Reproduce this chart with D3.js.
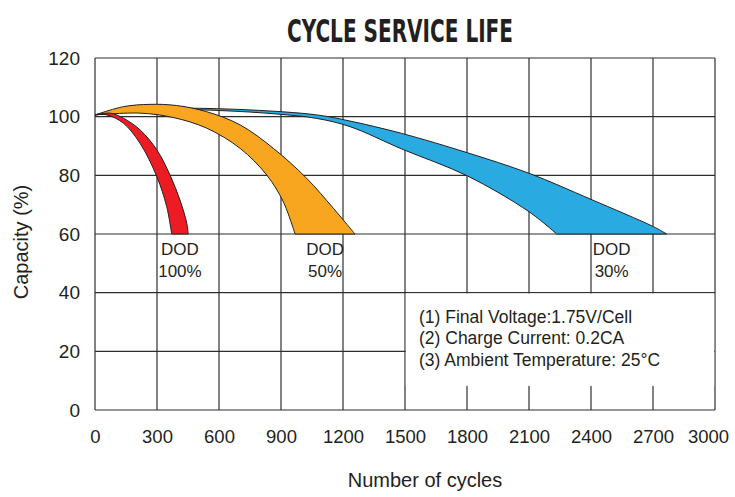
<!DOCTYPE html>
<html>
<head>
<meta charset="utf-8">
<script src="https://cdn.jsdelivr.net/npm/d3@7"></script>
<style>
  body { margin: 0; background: #fff; }
  svg { display: block; }
</style>
</head>
<body>
<div id="chart"></div>
<script>
// axes: number of cycles vs remaining capacity (%)
const xTicks = [0, 300, 600, 900, 1200, 1500, 1800, 2100, 2400, 2700, 3000];
const yTicks = [0, 20, 40, 60, 80, 100, 120];

// each band is an upper and a lower edge, [cycles, capacity %]
const dod100Upper = [[0, 100.6], [73, 101.2], [137, 99.5], [218, 95.5], [299, 88.7], [363, 80.1], [411, 71.6], [444, 63.7], [451, 60]];
const dod100Lower = [[0, 100.6], [57, 100.6], [137, 97.8], [218, 90.9], [299, 79.6], [347, 69.3], [371, 60]];

const dod50Upper = [[0, 100.6], [137, 103.4], [266, 104.2], [395, 103.8], [540, 101.7], [702, 97.2], [863, 89.2], [1024, 79], [1153, 68.8], [1258, 60]];
const dod50Lower = [[0, 100.6], [218, 101.2], [379, 99.7], [540, 96.1], [702, 89.2], [831, 80.1], [911, 71], [968, 60]];

const dod30Upper = [[0, 100.6], [150, 102.5], [427, 102.9], [750, 102.3], [1073, 100.6], [1234, 98.5], [1484, 94.3], [1802, 87.7], [2100, 80.7], [2400, 71.8], [2702, 62.5], [2766, 60]];
const dod30Lower = [[0, 100.6], [300, 102.4], [600, 102.1], [880, 100.9], [1073, 99.4], [1234, 96.6], [1484, 89], [1802, 79.8], [2100, 67.6], [2234, 60]];

const bandNames = ["DOD 30%", "DOD 50%", "DOD 100%"];
const notes = [
  "(1) Final Voltage:1.75V/Cell",
  "(2) Charge Current: 0.2CA",
  "(3) Ambient Temperature: 25°C",
];

class CycleLifeChart {
  constructor(selector) {
    this.selector = selector;

    this.colors = {
      grid: "#2e2e2e",
      outline: "#231f20",
      text: "#231f20",
      bands: ["#29abe2", "#f8a51f", "#ed1c24"],
    };

    this.options = {
      width: 735,
      height: 497,
      margin: { top: 58, right: 20, bottom: 87, left: 95 },
      font: "'Liberation Sans', Arial, sans-serif",
    };
  }

  draw() {
    const { width, height, margin } = this.options;
    this.svg = d3
      .select(this.selector)
      .append("svg")
      .attr("width", width)
      .attr("height", height);

    this.x = d3.scaleLinear().domain([0, 3000]).range([margin.left, width - margin.right]);
    this.y = d3.scaleLinear().domain([0, 120]).range([height - margin.bottom, margin.top]);

    this._drawGrid();
    this._drawNotes();
    this._drawBands();
    this._drawAxes();
    this._drawTitles();
  }

  _drawGrid() {
    const g = this.svg.append("g").attr("stroke", this.colors.grid).attr("stroke-width", 1.2);

    g.selectAll("line.v")
      .data(xTicks)
      .join("line")
      .attr("class", "v")
      .attr("x1", (d) => this.x(d))
      .attr("x2", (d) => this.x(d))
      .attr("y1", this.y(0))
      .attr("y2", this.y(120));

    g.selectAll("line.h")
      .data(yTicks)
      .join("line")
      .attr("class", "h")
      .attr("x1", this.x(0))
      .attr("x2", this.x(3000))
      .attr("y1", (d) => this.y(d))
      .attr("y2", (d) => this.y(d));
  }

  _drawNotes() {
    // white panel over the lower right grid cells
    const x0 = this.x(1500);
    const x1 = this.x(3000);
    const y0 = this.y(40);
    const y1 = this.y(8.5);

    this.svg
      .append("rect")
      .attr("x", x0 + 0.8)
      .attr("y", y0 + 0.8)
      .attr("width", x1 - x0 - 1.6)
      .attr("height", y1 - y0)
      .attr("fill", "#fff");

    this.svg
      .append("g")
      .attr("font-family", this.options.font)
      .attr("font-size", 17.5)
      .attr("fill", this.colors.text)
      .selectAll("text")
      .data(notes)
      .join("text")
      .attr("x", x0 + 14)
      .attr("y", (d, i) => y0 + 30 + i * 21.5)
      .text((d) => d);
  }

  _drawBands() {
    const line = d3
      .line()
      .x((d) => this.x(d[0]))
      .y((d) => this.y(d[1]))
      .curve(d3.curveCatmullRom.alpha(0.5));

    const bands = [
      { upper: dod30Upper, lower: dod30Lower },
      { upper: dod50Upper, lower: dod50Lower },
      { upper: dod100Upper, lower: dod100Lower },
    ];

    this.svg
      .append("g")
      .selectAll("path")
      .data(bands)
      .join("path")
      .attr("d", (d) => {
        const top = line(d.upper);
        const bottom = line(d.lower.slice().reverse()).replace(/^M/, "L");
        return top + bottom + "Z";
      })
      .attr("fill", (d, i) => this.colors.bands[i])
      .attr("stroke", this.colors.outline)
      .attr("stroke-width", 1)
      .attr("stroke-linejoin", "round");

    // labels sit under the foot of each band
    const labels = this.svg
      .append("g")
      .attr("font-family", this.options.font)
      .attr("font-size", 17)
      .attr("fill", this.colors.text)
      .attr("text-anchor", "middle")
      .selectAll("text")
      .data(bands)
      .join("text")
      .attr("transform", (d) => {
        const foot = (d.upper[d.upper.length - 1][0] + d.lower[d.lower.length - 1][0]) / 2;
        return `translate(${this.x(foot)},${this.y(60)})`;
      });

    labels
      .selectAll("tspan")
      .data((d, i) => bandNames[i].split(" "))
      .join("tspan")
      .attr("x", 0)
      .attr("y", (d, i) => 21 + i * 22)
      .text((d) => d);
  }

  _drawAxes() {
    const font = this.options.font;

    this.svg
      .append("g")
      .attr("transform", `translate(0,${this.y(0)})`)
      .call(
        d3.axisBottom(this.x).tickValues(xTicks).tickFormat(d3.format("d")).tickSize(0).tickPadding(20)
      )
      .call((g) => g.select(".domain").remove())
      .call((g) =>
        g
          .selectAll("text")
          .attr("font-family", font)
          .attr("font-size", 18.5)
          .attr("fill", this.colors.text)
          // last label is pulled in a little so it stays on the page
          .attr("dx", (d, i, n) => (i === n.length - 1 ? -7 : 0))
      );

    this.svg
      .append("g")
      .attr("transform", `translate(${this.x(0)},0)`)
      .call(d3.axisLeft(this.y).tickValues(yTicks).tickSize(0).tickPadding(15))
      .call((g) => g.select(".domain").remove())
      .call((g) =>
        g.selectAll("text").attr("font-family", font).attr("font-size", 19).attr("fill", this.colors.text)
      );
  }

  _drawTitles() {
    const { width, height, margin } = this.options;
    const font = this.options.font;

    this.svg
      .append("text")
      .attr("x", 400)
      .attr("y", 42)
      .attr("text-anchor", "middle")
      .attr("font-family", "'Liberation Sans Narrow', 'DejaVu Sans Condensed', sans-serif")
      .attr("font-weight", "bold")
      .attr("font-size", 32)
      .attr("textLength", 226)
      .attr("lengthAdjust", "spacingAndGlyphs")
      .attr("fill", this.colors.text)
      .text("CYCLE SERVICE LIFE");

    this.svg
      .append("text")
      .attr("x", (margin.left + width - margin.right) / 2 + 20)
      .attr("y", height - 10)
      .attr("text-anchor", "middle")
      .attr("font-family", font)
      .attr("font-size", 20)
      .attr("fill", this.colors.text)
      .text("Number of cycles");

    this.svg
      .append("text")
      .attr("transform", `translate(28,${this.y(60) + 8}) rotate(-90)`)
      .attr("text-anchor", "middle")
      .attr("font-family", font)
      .attr("font-size", 20)
      .attr("fill", this.colors.text)
      .text("Capacity (%)");
  }
}

new CycleLifeChart("#chart").draw();
</script>
</body>
</html>
